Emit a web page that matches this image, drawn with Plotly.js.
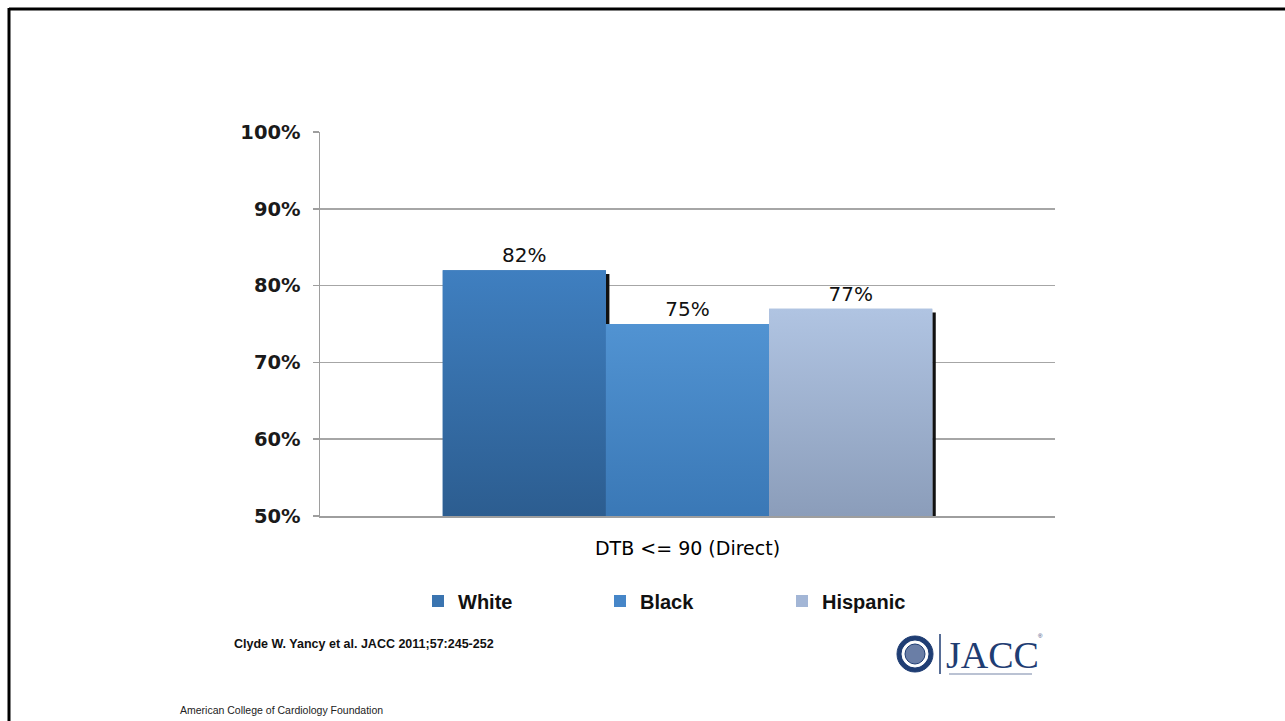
<!DOCTYPE html>
<html>
<head>
<meta charset="utf-8">
<script src="https://cdn.plot.ly/plotly-3.0.1.min.js"></script>
<style>
  html, body { margin: 0; padding: 0; background: #ffffff; }
  #chart { width: 1285px; height: 721px; }
</style>
</head>
<body>
<div id="chart"></div>
<script>
// Door-to-balloon time within 90 minutes (direct presenters), by race/ethnicity
const categoryLabel = "DTB <= 90 (Direct)";
const groups = ["White", "Black", "Hispanic"];
const percentValues = [82, 75, 77];
const valueLabels = ["82%", "75%", "77%"];
const yTickValues = [50, 60, 70, 80, 90, 100];
const yTickLabels = ["50%", "60%", "70%", "80%", "90%", "100%"];

// Styling
const baseColors = ["#3a74b0", "#4686c8", "#a3b6d6"];
const gradTop = ["#3f7fc0", "#5193d2", "#b0c4e2"];
const gradBottom = ["#2c5d90", "#3a78b6", "#8b9dba"];
const labelFont = "'DejaVu Sans', 'Liberation Sans', sans-serif";

// Plot-area geometry (pixels) for positioning decorations outside the axes
const W = 1285, H = 721;
const M = { l: 320, r: 230, t: 132, b: 205 };
const PW = W - M.l - M.r, PH = H - M.t - M.b;
const px = x => (x - M.l) / PW;
const py = y => (H - M.b - y) / PH;

const barWidth = 0.222;
const barStep = 0.222;
const centers = groups.map((g, i) => (i - (groups.length - 1) / 2) * barStep);

const yMin = yTickValues[0];
const traces = [];

// Thin dark drop-shadow strips along the right edge of each bar
const shadowW = 3.5 / PW;
groups.forEach((g, i) => {
  traces.push({
    type: "bar",
    x: [centers[i] + barWidth / 2 + shadowW / 2],
    y: [percentValues[i] - 0.5 - yMin],
    base: yMin,
    width: shadowW,
    marker: { color: "#111111", line: { width: 0 } },
    showlegend: false,
    hoverinfo: "skip"
  });
});

// The bars themselves
groups.forEach((g, i) => {
  traces.push({
    type: "bar",
    name: g,
    x: [centers[i]],
    y: [percentValues[i] - yMin],
    base: yMin,
    width: barWidth,
    marker: { color: baseColors[i], line: { width: 0 } },
    text: [valueLabels[i]],
    textposition: "outside",
    cliponaxis: false,
    textfont: { family: labelFont, size: 20, color: "#111111" },
    hovertemplate: g + ": %{text}<extra></extra>"
  });
});

// Vertical shading laid over each bar
groups.forEach((g, i) => {
  const x0 = centers[i] - barWidth / 2, x1 = centers[i] + barWidth / 2;
  const v = percentValues[i];
  traces.push({
    type: "scatter",
    mode: "lines",
    x: [x0, x1, x1, x0, x0],
    y: [yMin, yMin, v, v, yMin],
    fill: "toself",
    line: { width: 0 },
    fillgradient: {
      type: "vertical",
      colorscale: [[0, gradBottom[i]], [1, gradTop[i]]],
      start: yMin,
      stop: v
    },
    showlegend: false,
    hoverinfo: "skip"
  });
});

const navy = "#1f3d73";
const shapes = [
  // slide frame
  { type: "line", xref: "paper", yref: "paper", x0: px(9), x1: px(1290), y0: py(9), y1: py(9),
    line: { color: "#000000", width: 3 } },
  { type: "line", xref: "paper", yref: "paper", x0: px(9), x1: px(9), y0: py(8), y1: py(730),
    line: { color: "#000000", width: 3 } },
  // journal emblem
  { type: "circle", xref: "paper", yref: "paper", x0: px(897), x1: px(933), y0: py(636), y1: py(672),
    fillcolor: navy, line: { color: navy, width: 1 } },
  { type: "circle", xref: "paper", yref: "paper", x0: px(902), x1: px(928), y0: py(641), y1: py(667),
    fillcolor: "#ffffff", line: { color: "#ffffff", width: 1 } },
  { type: "circle", xref: "paper", yref: "paper", x0: px(905), x1: px(925), y0: py(644), y1: py(664),
    fillcolor: "#6a7ea6", line: { color: navy, width: 1 } },
  { type: "line", xref: "paper", yref: "paper", x0: px(940), x1: px(940), y0: py(634), y1: py(674),
    line: { color: navy, width: 1.5 } },
  { type: "line", xref: "paper", yref: "paper", x0: px(949), x1: px(1032), y0: py(674), y1: py(674),
    line: { color: "#a3aec4", width: 1.5 } }
];

const annotations = [
  { xref: "paper", yref: "paper", x: px(232), y: py(644), xanchor: "left", yanchor: "middle",
    text: "<b>Clyde W. Yancy et al. JACC 2011;57:245-252</b>", showarrow: false,
    font: { family: "'Liberation Sans', Arial, sans-serif", size: 12.5, color: "#111111" } },
  { xref: "paper", yref: "paper", x: px(178), y: py(710), xanchor: "left", yanchor: "middle",
    text: "American College of Cardiology Foundation", showarrow: false,
    font: { family: "'Liberation Sans', Arial, sans-serif", size: 10.5, color: "#222222" } },
  { xref: "paper", yref: "paper", x: px(944), y: py(655), xanchor: "left", yanchor: "middle",
    text: "JACC", showarrow: false,
    font: { family: "'Liberation Serif', 'DejaVu Serif', serif", size: 38, color: navy } },
  { xref: "paper", yref: "paper", x: px(1036), y: py(636), xanchor: "left", yanchor: "middle",
    text: "®", showarrow: false,
    font: { family: "'Liberation Sans', sans-serif", size: 6, color: navy } }
];

const layout = {
  width: W,
  height: H,
  margin: M,
  paper_bgcolor: "#ffffff",
  plot_bgcolor: "#ffffff",
  barmode: "overlay",
  showlegend: true,
  font: { family: labelFont, color: "#111111" },
  xaxis: {
    range: [-0.5, 0.5],
    tickmode: "array",
    tickvals: [0],
    ticktext: [categoryLabel],
    tickfont: { family: labelFont, size: 19, color: "#000000" },
    ticks: "",
    ticklabelstandoff: 15,
    showgrid: false,
    zeroline: false,
    showline: true,
    linecolor: "#9e9e9e",
    linewidth: 1.5,
    fixedrange: true
  },
  yaxis: {
    range: [50, 100],
    tickmode: "array",
    tickvals: yTickValues,
    ticktext: yTickLabels,
    tickfont: { family: labelFont, size: 19.5, weight: "bold", color: "#1a1a1a" },
    ticks: "outside",
    ticklen: 6,
    tickcolor: "#9e9e9e",
    tickwidth: 1.5,
    ticklabelstandoff: 8,
    showgrid: true,
    gridcolor: "#a6a6a6",
    gridwidth: 1.5,
    zeroline: false,
    showline: true,
    linecolor: "#9e9e9e",
    linewidth: 1.5,
    fixedrange: true
  },
  legend: {
    orientation: "h",
    x: px(418),
    xanchor: "left",
    y: py(601),
    yanchor: "middle",
    entrywidth: 137,
    entrywidthmode: "pixels",
    traceorder: "normal",
    font: { family: "'Liberation Sans', Arial, sans-serif", size: 20, weight: "bold", color: "#111111" },
    bgcolor: "rgba(0,0,0,0)"
  },
  shapes: shapes,
  annotations: annotations
};

Plotly.newPlot("chart", traces, layout, { displayModeBar: false, staticPlot: true });
</script>
</body>
</html>
